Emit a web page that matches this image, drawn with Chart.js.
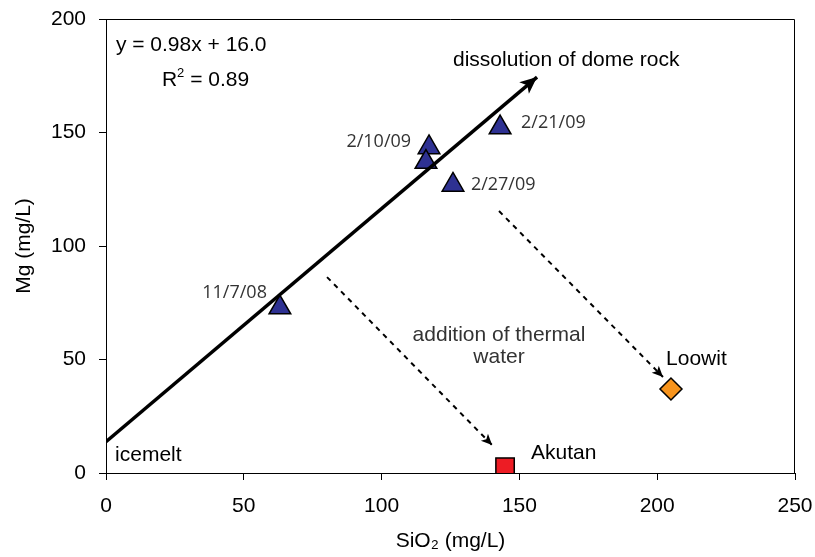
<!DOCTYPE html>
<html>
<head>
<meta charset="utf-8">
<script src="https://cdn.jsdelivr.net/npm/chart.js@4.4.1/dist/chart.umd.min.js"></script>
<style>
  html, body { margin: 0; padding: 0; background: #fff; }
  #wrap { width: 815px; height: 557px; }
</style>
</head>
<body>
<div id="wrap"><canvas id="mgChart" width="815" height="557"></canvas></div>
<script>
// regression line (drawn as an arrow)
const trendX = [0, 156.4];
const trendY = [13.8, 174.4];

// sample points
const sampleDates = ['11/7/08', '2/10/09', '2/10/09', '2/27/09', '2/21/09'];
const sampleSiO2 = [63.1, 117.2, 116.1, 125.9, 143.0];
const sampleMg = [72.9, 143.4, 137.0, 126.9, 152.2];

// end members
const akutanSiO2 = [144.8];
const akutanMg = [2.6];
const loowitSiO2 = [205.0];
const loowitMg = [37.0];

// dashed mixing arrows
const akutanArrowX = [80.2, 140.1];
const akutanArrowY = [86.3, 12.3];
const loowitArrowX = [142.6, 202.1];
const loowitArrowY = [115.4, 42.3];

// axis ticks
const xTicks = [0, 50, 100, 150, 200, 250];
const yTicks = [0, 50, 100, 150, 200];

const pts = (xs, ys) => xs.map((x, i) => ({ x: x, y: ys[i] }));

// text notes, placed in data units
const notes = [
  { text: 'y = 0.98x + 16.0', x: 3.6, y: 188.5, align: 'left' },
  { text: 'dissolution of dome rock', x: 125.9, y: 181.9, align: 'left' },
  { text: '2/10/09', x: 110.7, y: 145.8, align: 'right', date: true },
  { text: '2/21/09', x: 150.6, y: 154.2, align: 'left', date: true },
  { text: '2/27/09', x: 132.4, y: 126.9, align: 'left', date: true },
  { text: '11/7/08', x: 58.4, y: 79.3, align: 'right', date: true },
  { text: 'addition of thermal', x: 142.6, y: 60.8, align: 'center', color: '#333' },
  { text: 'water', x: 142.6, y: 51.1, align: 'center', color: '#333' },
  { text: 'Loowit', x: 203.2, y: 50.2, align: 'left' },
  { text: 'Akutan', x: 154.2, y: 8.8, align: 'left' },
  { text: 'icemelt', x: 3.3, y: 7.9, align: 'left' }
];

const FONT = 'Arial, "Liberation Sans", sans-serif';

const extras = {
  id: 'extras',
  afterDraw(chart) {
    const { ctx, chartArea: a, scales: { x, y } } = chart;
    ctx.save();
    // frame
    ctx.strokeStyle = '#000';
    ctx.lineWidth = 1;
    ctx.beginPath();
    ctx.moveTo(a.left, a.top + 0.5);
    ctx.lineTo(a.right - 0.5, a.top + 0.5);
    ctx.lineTo(a.right - 0.5, a.bottom);
    ctx.stroke();

    // arrow heads
    const head = (xs, ys, len, half) => {
      const n = xs.length - 1;
      const x1 = x.getPixelForValue(xs[n - 1]), y1 = y.getPixelForValue(ys[n - 1]);
      const x2 = x.getPixelForValue(xs[n]), y2 = y.getPixelForValue(ys[n]);
      const ang = Math.atan2(y2 - y1, x2 - x1);
      ctx.save();
      ctx.translate(x2, y2);
      ctx.rotate(ang);
      ctx.fillStyle = '#000';
      ctx.beginPath();
      ctx.moveTo(0, 0);
      ctx.lineTo(-len, -half);
      ctx.lineTo(-len * 0.75, 0);
      ctx.lineTo(-len, half);
      ctx.closePath();
      ctx.fill();
      ctx.restore();
    };
    head(trendX, trendY, 17, 7.5);
    head(akutanArrowX, akutanArrowY, 11, 5);
    head(loowitArrowX, loowitArrowY, 11, 5);

    // notes
    ctx.textBaseline = 'middle';
    notes.forEach(n => {
      ctx.font = n.date ? '18px "Open Sans", sans-serif' : '21px ' + FONT;
      ctx.fillStyle = n.date ? '#333' : (n.color || '#000');
      ctx.textAlign = n.align;
      ctx.fillText(n.text, x.getPixelForValue(n.x), y.getPixelForValue(n.y));
    });

    // R² line with superscript
    const rx = x.getPixelForValue(20.3), ry = y.getPixelForValue(173.1);
    ctx.textAlign = 'left';
    ctx.fillStyle = '#000';
    ctx.font = '21px ' + FONT;
    ctx.fillText('R', rx, ry);
    const rw = ctx.measureText('R').width;
    ctx.font = '13px ' + FONT;
    ctx.fillText('2', rx + rw, ry - 7);
    const sw = ctx.measureText('2').width;
    ctx.font = '21px ' + FONT;
    ctx.fillText(' = 0.89', rx + rw + sw, ry);
    ctx.restore();
  }
};

new Chart(document.getElementById('mgChart'), {
  type: 'scatter',
  data: {
    datasets: [
      {
        label: 'trend',
        data: pts(trendX, trendY),
        showLine: true,
        borderColor: '#000',
        borderWidth: 3.5,
        pointRadius: 0
      },
      {
        label: 'to Akutan',
        data: pts(akutanArrowX, akutanArrowY),
        showLine: true,
        borderColor: '#000',
        borderWidth: 2,
        borderDash: [5, 5],
        pointRadius: 0
      },
      {
        label: 'to Loowit',
        data: pts(loowitArrowX, loowitArrowY),
        showLine: true,
        borderColor: '#000',
        borderWidth: 2,
        borderDash: [5, 5],
        pointRadius: 0
      },
      {
        label: 'samples',
        data: pts(sampleSiO2, sampleMg),
        pointStyle: 'triangle',
        pointRadius: 12.5,
        backgroundColor: '#2e3192',
        borderColor: '#000',
        borderWidth: 1.5
      },
      {
        label: 'Akutan',
        data: pts(akutanSiO2, akutanMg),
        pointStyle: 'rect',
        pointRadius: 13,
        backgroundColor: '#ed1c24',
        borderColor: '#000',
        borderWidth: 1.5
      },
      {
        label: 'Loowit',
        data: pts(loowitSiO2, loowitMg),
        pointStyle: 'rectRot',
        pointRadius: 11,
        backgroundColor: '#f7941d',
        borderColor: '#000',
        borderWidth: 1.5
      }
    ]
  },
  options: {
    responsive: false,
    animation: false,
    layout: { padding: { top: 19, right: 20, left: 0, bottom: 0 } },
    plugins: {
      legend: { display: false },
      tooltip: { enabled: false }
    },
    scales: {
      x: {
        type: 'linear',
        min: 0,
        max: 250,
        afterBuildTicks: (s) => { s.ticks = xTicks.map(v => ({ value: v })); },
        afterFit: (s) => { s.height = 84; s.paddingLeft = 0; s.paddingRight = 0; },
        ticks: {
          color: '#000',
          font: { family: FONT, size: 21 },
          padding: 14
        },
        grid: { drawOnChartArea: false, color: '#000', tickLength: 7 },
        border: { color: '#000', width: 1 },
        title: {
          display: true,
          text: 'SiO\u2082 (mg/L)',
          color: '#000',
          font: { family: FONT, size: 21 },
          padding: { top: 0, bottom: 3 }
        }
      },
      y: {
        type: 'linear',
        min: 0,
        max: 200,
        afterBuildTicks: (s) => { s.ticks = yTicks.map(v => ({ value: v })); },
        afterFit: (s) => { s.width = 106; s.paddingTop = 0; s.paddingBottom = 0; },
        ticks: {
          color: '#000',
          font: { family: FONT, size: 21 },
          padding: 13
        },
        grid: { drawOnChartArea: false, color: '#000', tickLength: 7 },
        border: { color: '#000', width: 1 },
        title: {
          display: true,
          text: 'Mg (mg/L)',
          color: '#000',
          font: { family: FONT, size: 21 },
          padding: { top: 12, bottom: 12 }
        }
      }
    }
  },
  plugins: [extras]
});
</script>
</body>
</html>
